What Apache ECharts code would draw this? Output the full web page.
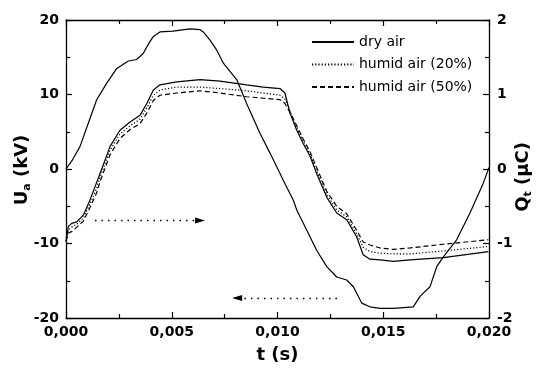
<!DOCTYPE html>
<html>
<head>
<meta charset="utf-8">
<script src="https://cdn.jsdelivr.net/npm/echarts@6/dist/echarts.min.js"></script>
<style>html,body{margin:0;padding:0;background:#fff;}#c{width:546px;height:374px;}</style>
</head>
<body>
<div id="c"></div>
<script>
// Applied voltage U_a (kV), left axis
const tU = [0, 0.0003, 0.00066, 0.00105, 0.00145, 0.00192, 0.0024, 0.00295, 0.00334, 0.00365, 0.0039, 0.00413, 0.00444, 0.00506, 0.00586, 0.00634, 0.00649, 0.00681, 0.00712, 0.00744, 0.00775, 0.00807, 0.00854, 0.00917, 0.00965, 0.01012, 0.01027, 0.01075, 0.01091, 0.01138, 0.01185, 0.01233, 0.0128, 0.01327, 0.01359, 0.01398, 0.01437, 0.01485, 0.01548, 0.01642, 0.01674, 0.01721, 0.01753, 0.01784, 0.01847, 0.0191, 0.01973, 0.02];
const voltage = [0, 1.2, 3.0, 6.1, 9.3, 11.5, 13.5, 14.5, 14.7, 15.5, 16.8, 17.8, 18.4, 18.5, 18.8, 18.7, 18.4, 17.3, 16.0, 14.2, 13.1, 12.0, 8.8, 4.8, 2.1, -0.6, -1.5, -4.2, -5.5, -8.2, -10.9, -13.1, -14.5, -14.9, -15.8, -18.0, -18.5, -18.7, -18.7, -18.5, -17.1, -15.8, -13.1, -11.8, -9.5, -5.9, -1.9, 0.2];

// Transferred charge Q_t (µC), right axis
const tQ = [0, 0.00011, 0.00027, 0.00051, 0.00082, 0.00113, 0.00145, 0.00161, 0.00208, 0.00255, 0.00303, 0.0035, 0.00382, 0.00413, 0.00444, 0.00523, 0.00634, 0.00728, 0.00854, 0.00933, 0.01012, 0.01035, 0.01059, 0.01091, 0.01122, 0.01154, 0.01185, 0.01233, 0.0128, 0.01327, 0.01374, 0.01405, 0.01437, 0.01485, 0.01548, 0.01627, 0.01784, 0.01997];
const qDry   = [-0.98, -0.77, -0.73, -0.71, -0.62, -0.42, -0.18, -0.06, 0.30, 0.52, 0.63, 0.72, 0.88, 1.06, 1.13, 1.17, 1.20, 1.18, 1.13, 1.10, 1.08, 1.02, 0.75, 0.52, 0.34, 0.17, -0.06, -0.38, -0.59, -0.68, -0.91, -1.15, -1.21, -1.22, -1.24, -1.22, -1.19, -1.11];
const qHum20 = [-0.93, -0.82, -0.78, -0.74, -0.66, -0.47, -0.26, -0.11, 0.25, 0.47, 0.58, 0.67, 0.82, 0.99, 1.06, 1.10, 1.10, 1.08, 1.05, 1.02, 0.99, 0.94, 0.78, 0.55, 0.37, 0.20, -0.02, -0.34, -0.55, -0.64, -0.87, -1.05, -1.11, -1.13, -1.14, -1.14, -1.10, -1.04];
const qHum50 = [-0.97, -0.86, -0.84, -0.78, -0.70, -0.52, -0.32, -0.17, 0.19, 0.41, 0.53, 0.61, 0.75, 0.92, 0.99, 1.02, 1.05, 1.02, 0.97, 0.95, 0.93, 0.88, 0.76, 0.58, 0.40, 0.23, 0.02, -0.30, -0.50, -0.60, -0.82, -0.98, -1.02, -1.06, -1.08, -1.06, -1.01, -0.95];

const seriesNames = ['dry air', 'humid air (20%)', 'humid air (50%)'];
const xTicks = [0, 0.005, 0.010, 0.015, 0.020];

// Arrow annotations (data coordinates on U axis)
const arrowRight = [[0.00137, -6.9], [0.00634, -6.9]];
const arrowLeft  = [[0.01281, -17.3], [0.00809, -17.3]];

function pairs(t, v) { return t.map((x, i) => [x, v[i]]); }

const FONT = 'DejaVu Sans';
const chart = echarts.init(document.getElementById('c'), null, {renderer: 'canvas'});

const axisLine = {show: true, onZero: false, lineStyle: {color: '#000', width: 1.3}};
const axisTick = {show: true, inside: true, length: 6, lineStyle: {color: '#000', width: 1.2}};
const minorTick = {show: true, splitNumber: 2, length: 4, lineStyle: {color: '#000', width: 1.2}};
const tickLabel = {color: '#000', fontFamily: FONT, fontWeight: 'bold', fontSize: 14};

chart.setOption({
  animation: false,
  backgroundColor: '#fff',
  grid: {left: 66, right: 57, top: 20, bottom: 56},
  legend: {
    data: seriesNames,
    orient: 'vertical',
    left: 306,
    top: 30,
    itemWidth: 42,
    itemHeight: 14,
    itemGap: 8.5,
    itemStyle: {color: 'rgba(0,0,0,0)', borderWidth: 0},
    textStyle: {color: '#000', fontFamily: FONT, fontSize: 14}
  },
  xAxis: [
    {type: 'value', position: 'bottom', min: 0, max: 0.02, interval: 0.005,
     axisLine, axisTick, minorTick, splitLine: {show: false}, minorSplitLine: {show: false},
     axisLabel: Object.assign({margin: 7, formatter: v => v.toFixed(3).replace('.', ',')}, tickLabel),
     name: 't (s)', nameLocation: 'middle', nameGap: 28,
     nameTextStyle: {color: '#000', fontFamily: FONT, fontWeight: 'bold', fontSize: 18}},
    {type: 'value', position: 'top', min: 0, max: 0.02, interval: 0.005,
     axisLine, axisTick, minorTick, splitLine: {show: false}, axisLabel: {show: false}}
  ],
  yAxis: [
    {type: 'value', position: 'left', min: -20, max: 20, interval: 10,
     axisLine, axisTick, minorTick, splitLine: {show: false},
     axisLabel: Object.assign({margin: 7}, tickLabel)},
    {type: 'value', position: 'right', min: -2, max: 2, interval: 1,
     axisLine, axisTick, minorTick, splitLine: {show: false},
     axisLabel: Object.assign({margin: 8}, tickLabel)}
  ],
  graphic: [
    {type: 'text', x: 22, y: 170, rotation: Math.PI / 2, silent: true,
     style: {text: '{m|U}{s|a}{m| (kV)}', align: 'center', verticalAlign: 'middle', fill: '#000',
       rich: {m: {fontFamily: FONT, fontWeight: 'bold', fontSize: 18, lineHeight: 22, fill: '#000'},
              s: {fontFamily: FONT, fontWeight: 'bold', fontSize: 11, lineHeight: 11, verticalAlign: 'bottom', fill: '#000'}}}},
    {type: 'text', x: 523, y: 177, rotation: Math.PI / 2, silent: true,
     style: {text: '{m|Q}{s|t}{m| (µC)}', align: 'center', verticalAlign: 'middle', fill: '#000',
       rich: {m: {fontFamily: FONT, fontWeight: 'bold', fontSize: 18, lineHeight: 22, fill: '#000'},
              s: {fontFamily: FONT, fontWeight: 'bold', fontSize: 11, lineHeight: 11, verticalAlign: 'bottom', fill: '#000'}}}}
  ],
  series: [
    {name: seriesNames[0], type: 'line', xAxisIndex: 0, yAxisIndex: 1, data: pairs(tQ, qDry),
     symbol: 'none', lineStyle: {color: '#000', width: 1.2, type: 'solid'}, itemStyle: {color: '#000'}},
    {name: seriesNames[1], type: 'line', xAxisIndex: 0, yAxisIndex: 1, data: pairs(tQ, qHum20),
     symbol: 'none', lineStyle: {color: '#000', width: 1.2, type: [1.2, 2]}, itemStyle: {color: '#000'}},
    {name: seriesNames[2], type: 'line', xAxisIndex: 0, yAxisIndex: 1, data: pairs(tQ, qHum50),
     symbol: 'none', lineStyle: {color: '#000', width: 1.2, type: [5, 3]}, itemStyle: {color: '#000'}},
    {name: 'U_a', type: 'line', xAxisIndex: 0, yAxisIndex: 0, data: pairs(tU, voltage),
     symbol: 'none', lineStyle: {color: '#000', width: 1.2, type: 'solid'}, itemStyle: {color: '#000'},
     markLine: {
       silent: true, symbol: ['none', 'triangle'], symbolSize: [6, 10],
       label: {show: false},
       lineStyle: {color: '#000', width: 1.3, type: [1.5, 5]},
       itemStyle: {color: '#000'},
       data: [
         [{coord: arrowRight[0]}, {coord: arrowRight[1]}],
         [{coord: arrowLeft[0]}, {coord: arrowLeft[1]}]
       ]
     }}
  ]
});
</script>
</body>
</html>
